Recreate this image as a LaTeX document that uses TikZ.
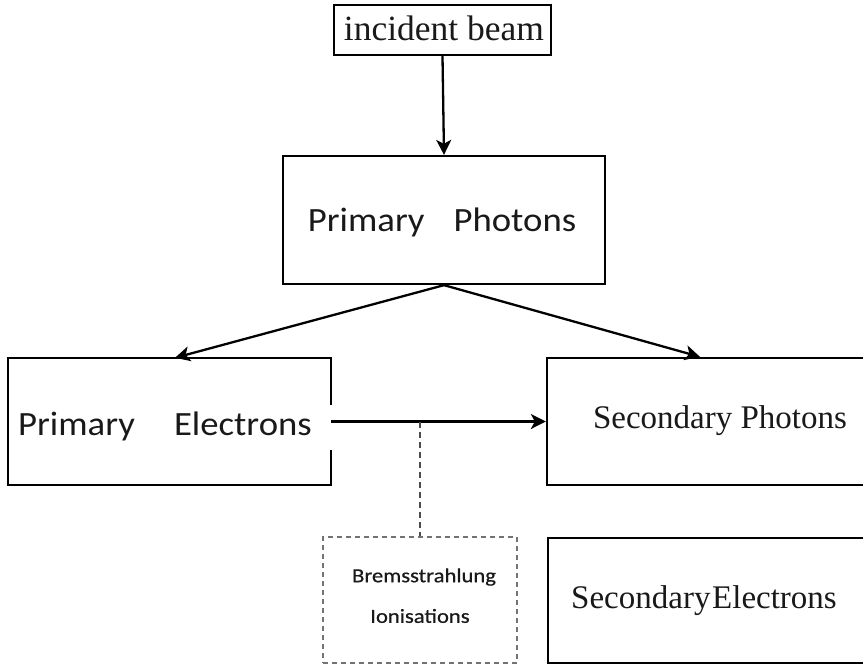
\documentclass[tikz,border=0pt]{standalone}
\usepackage{fontspec}
\setmainfont{Liberation Serif}
\newfontfamily\calib{Carlito}[FakeStretch=1.08]
\newfontfamily\calibs{Carlito}[FakeStretch=1.13,FakeBold=0.6]
\usetikzlibrary{arrows.meta,calc}
\begin{document}
\begin{tikzpicture}[x=1pt,y=-1pt,
  box/.style={draw=black,line width=2.3pt,rectangle,inner sep=0pt,minimum width=#1},
  conn/.style={line width=2.3pt,-{Stealth[length=15pt,width=15pt,inset=4pt]}},
  lbl/.style={inner sep=0pt,text=black!90}]
\useasboundingbox (0,0) rectangle (863,667);
\clip (0,0) rectangle (863,667);
% nodes
\node[box=217pt,minimum height=50pt] (beam) at (442.5,30) {};
\node[lbl,font=\fontsize{35.5}{40}\selectfont] at (444,28) {incident beam};
\node[box=322pt,minimum height=128pt] (pphot) at (444,220) {};
\node[lbl,font=\calib\fontsize{34}{40}\selectfont] at (442,222) {Primary\hspace{0.85em}Photons};
\node[rectangle,inner sep=0pt,minimum width=323pt,minimum height=127pt] (pelec) at (169.5,421.5) {};
\draw[line width=2.3pt] ($(pelec.north east)+(0,47)$) -- (pelec.north east) -- (pelec.north west)
  -- (pelec.south west) -- (pelec.south east) -- ($(pelec.south east)+(0,-35)$);
\node[lbl,anchor=west,font=\calib\fontsize{34}{40}\selectfont] at (18,426) {Primary\hspace{1.15em}Electrons};
\node[box=343pt,minimum height=127pt] (sphot) at (718.5,421.5) {};
\node[lbl,font=\fontsize{33}{40}\selectfont] at (720,421) {Secondary Photons};
\node[box=342pt,minimum height=125pt] (selec) at (719,600.5) {};
\node[lbl,font=\fontsize{33}{40}\selectfont] at (704,601) {Secondary\hspace{0.05em}Electrons};
\node[draw=black!55,dashed,dash pattern=on 5pt off 4pt,line width=1.6pt,rectangle,inner sep=0pt,
  minimum width=194pt,minimum height=126pt] (brem) at (420,600) {};
\node[lbl,font=\calibs\fontsize{20}{24}\selectfont] at (424,577) {Bremsstrahlung};
\node[lbl,font=\calibs\fontsize{20}{24}\selectfont] at (420,616) {Ionisations};
% connectors
\draw[conn] (beam.south) -- (pphot.north);
\draw[conn] (pphot.south) -- ([xshift=5.5pt]pelec.north);
\draw[conn] (pphot.south) -- ([xshift=-18.5pt]sphot.north);
\draw[conn] (pelec.east) -- (sphot.west);
\coordinate (jn) at (brem.north |- pelec.east);
\draw[line width=1.6pt,black!70,dash pattern=on 6pt off 4pt] (jn) -- (brem.north);
\end{tikzpicture}
\end{document}
